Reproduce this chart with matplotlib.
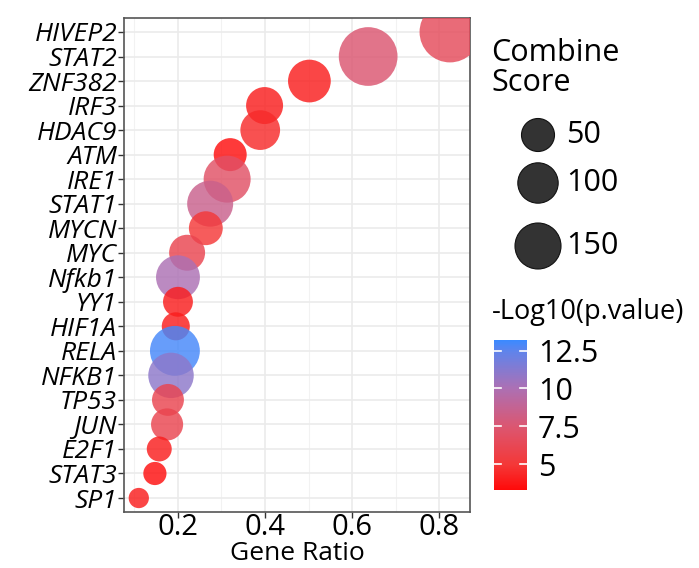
import matplotlib
matplotlib.use("Agg")
import matplotlib.pyplot as plt
import numpy as np
from matplotlib.colors import LinearSegmentedColormap, Normalize

plt.rcParams['font.family'] = ['Open Sans', 'DejaVu Sans']

genes = ["HIVEP2", "STAT2", "ZNF382", "IRF3", "HDAC9", "ATM", "IRE1", "STAT1",
         "MYCN", "MYC", "Nfkb1", "YY1", "HIF1A", "RELA", "NFKB1", "TP53",
         "JUN", "E2F1", "STAT3", "SP1"]
gene_ratio = [0.825, 0.637, 0.502, 0.399, 0.389, 0.320, 0.313, 0.274,
              0.264, 0.221, 0.200, 0.200, 0.195, 0.193, 0.184, 0.177,
              0.175, 0.157, 0.147, 0.110]
combine_score = [330, 300, 120, 75, 95, 50, 160, 150,
                 55, 68, 130, 34, 26, 190, 145, 44,
                 45, 15, 10, 4]
neg_log_p = [6.5, 7.5, 4.0, 4.0, 4.5, 3.5, 7.0, 8.5,
             5.0, 6.0, 10.0, 4.0, 4.0, 13.0, 11.0, 6.0,
             6.0, 4.0, 3.5, 4.0]

size_breaks = [50, 100, 150]
color_ticks = [5, 7.5, 10, 12.5]

W, H = 699, 568
fig = plt.figure(figsize=(W / 100, H / 100), dpi=100)


def px_to_pt2(score):
    d = 15.25 + 2.51 * np.sqrt(np.asarray(score, dtype=float))
    return (d * 0.72) ** 2


cmap = LinearSegmentedColormap.from_list(
    "redblue",
    [(0.0, "#FF0A0A"), (0.17, "#F43838"), (0.42, "#DC5670"),
     (0.68, "#AC70B4"), (0.93, "#5E84EC"), (1.0, "#3B8AFF")])
norm = Normalize(vmin=3.3, vmax=13.2)

ax = fig.add_axes([124 / W, 1 - 512 / H, 346 / W, 494 / H])
ypos = np.arange(len(genes))[::-1]
ax.scatter(gene_ratio, ypos, s=px_to_pt2(combine_score), c=neg_log_p,
           cmap=cmap, norm=norm, alpha=0.82, edgecolors="none", zorder=3)

ax.set_xlim(0.076, 0.871)
ax.set_ylim(-0.57, len(genes) - 0.43)
ax.set_xticks([0.2, 0.4, 0.6, 0.8])
ax.set_xticklabels(["0.2", "0.4", "0.6", "0.8"], fontsize=21)
ax.set_xticks([0.1, 0.3, 0.5, 0.7], minor=True)
ax.set_yticks(ypos)
ax.set_yticklabels(genes, fontsize=19, style="italic")
ax.tick_params(axis="both", which="major", length=4, width=1, color="#333333", pad=1)
ax.tick_params(axis="x", which="major", pad=-3)
ax.tick_params(axis="x", which="minor", length=0)
ax.grid(True, which="major", color="#EBEBEB", lw=1.2, zorder=0)
ax.grid(True, which="minor", axis="x", color="#F2F2F2", lw=0.8, zorder=0)
ax.set_axisbelow(True)
for sp in ax.spines.values():
    sp.set_color("#555555")
    sp.set_linewidth(1.2)
fig.text(297 / W, 1 - 553 / H, "Gene Ratio", fontsize=19, va="center", ha="center")

# size legend
fig.text(491 / W, 1 - 38 / H, "Combine\nScore", fontsize=22, va="top", ha="left",
         linespacing=1.0)
lax = fig.add_axes([480 / W, 1 - 280 / H, 100 / W, 170 / H])
lax.set_xlim(0, 100)
lax.set_ylim(0, 170)
lax.axis("off")
leg_y = [145, 97, 34]
lax.scatter([58] * 3, leg_y, s=px_to_pt2(size_breaks), color="#333333",
            edgecolors="#111111", linewidths=0.8, clip_on=False)
for yy, b in zip(leg_y, size_breaks):
    fig.text(566 / W, (1 - 280 / H) + yy / H, str(b), fontsize=22, va="center", ha="left")

# colour legend
fig.text(492 / W, 1 - 312 / H, "-Log10(p.value)", fontsize=19.5, va="center", ha="left")
cax = fig.add_axes([494 / W, 1 - 490 / H, 33 / W, 150 / H])
sm = plt.cm.ScalarMappable(norm=norm, cmap=cmap)
cb = fig.colorbar(sm, cax=cax, ticks=color_ticks)
cb.outline.set_visible(False)
cb.ax.set_yticklabels(["5", "7.5", "10", "12.5"], fontsize=22)
cb.ax.tick_params(length=0, pad=8)
for t in color_ticks:
    cb.ax.plot([0, 0.2], [t, t], color="white", lw=1.2)
    cb.ax.plot([0.8, 1], [t, t], color="white", lw=1.2)
cb.ax.set_xlim(0, 1)

fig.savefig("out.png", dpi=100)
